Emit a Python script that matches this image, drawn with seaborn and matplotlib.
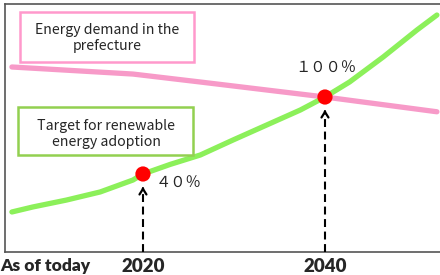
import numpy as np
import pandas as pd
import matplotlib
matplotlib.use('Agg')
import matplotlib.pyplot as plt
import seaborn as sns
from matplotlib.patches import Rectangle

# values (x: year, y: % of the 2040 target)
target_years = [2005.6, 2007.9, 2011.6, 2015.3, 2018.9, 2020, 2023, 2026.3, 2029.9,
                2033.6, 2037.3, 2040, 2042.7, 2046.4, 2050.1, 2052.3]
target_values = [10.4, 14.3, 19.7, 26.0, 35.3, 40, 47.5, 54.8, 66.5,
                 78.2, 89.9, 100, 111.7, 131.2, 152.2, 163.9]
demand_years = [2005.6, 2018.9, 2026.3, 2040, 2052.3]
demand_values = [123.4, 117.9, 111.7, 100, 88.5]
marker_years = [2020, 2040]
marker_values = [40, 100]
marker_labels = ['４０％', '１００％']
tick_labels = ['2020', '2040']

sns.set_style('white')
plt.rcParams['font.family'] = ['Noto Sans CJK JP', 'DejaVu Sans']
label_font = ['Lato', 'DejaVu Sans']

fig = plt.figure(figsize=(4.4, 2.75), dpi=100)
ax = fig.add_axes([5 / 440, 23 / 275, 435 / 440, 248 / 275])

demand = pd.DataFrame({'year': demand_years, 'value': demand_values})
target = pd.DataFrame({'year': target_years, 'value': target_values})
sns.lineplot(data=demand, x='year', y='value', color='#f79ac8', linewidth=3.8,
             solid_capstyle='round', ax=ax)
sns.lineplot(data=target, x='year', y='value', color='#8cf05a', linewidth=3.8,
             solid_capstyle='round', ax=ax)

ax.set_xlim(2004.84, 2052.64)
ax.set_ylim(-20.8, 172.5)

# dashed arrows from the axis up to each point
for yr, val in zip(marker_years, marker_values):
    tip = val - 10
    ax.plot([yr, yr], [-20.8, tip - 1.5], color='black', linewidth=1.5,
            linestyle=(0, (3.8, 2.2)), zorder=3)
    ax.annotate('', xy=(yr, tip), xytext=(yr, tip - 4),
                arrowprops=dict(arrowstyle='->,head_length=0.4,head_width=0.25',
                                color='black', lw=1.6), zorder=3)

sns.scatterplot(x=marker_years, y=marker_values, color='#ff0000', s=120,
                edgecolor='none', zorder=5, ax=ax)

ax.text(2021.4, 40 - 7.5, marker_labels[0], fontsize=11, ha='left', va='center')
ax.text(2040.1, 100 + 22, marker_labels[1], fontsize=11, ha='center', va='center')

for side in ['left', 'top', 'bottom']:
    ax.spines[side].set_color('#555555')
    ax.spines[side].set_linewidth(1.2)
ax.spines['right'].set_visible(False)

ax.set_yticks([])
ax.set_xticks(marker_years)
ax.set_xticklabels(tick_labels, fontweight='heavy', fontsize=13.5, family=label_font)
ax.tick_params(axis='x', length=0, pad=4)
ax.set_xlabel('')
ax.set_ylabel('')
ax.text(-5 / 435, -5.5 / 248, 'As of today', transform=ax.transAxes,
        fontsize=12.5, fontweight='heavy', ha='left', va='top', family=label_font)

# legend boxes
fig.patches.append(Rectangle((20 / 440, 1 - 62 / 275), 174 / 440, 50 / 275,
                             transform=fig.transFigure, facecolor='white',
                             edgecolor='#ff99cc', linewidth=1.8, zorder=10))
fig.text(107 / 440, 1 - 38 / 275, 'Energy demand in the\nprefecture', ha='center',
         va='center', fontsize=10.2, linespacing=1.2, zorder=11)
fig.patches.append(Rectangle((18 / 440, 1 - 155 / 275), 175 / 440, 48 / 275,
                             transform=fig.transFigure, facecolor='white',
                             edgecolor='#92d050', linewidth=1.8, zorder=10))
fig.text(106 / 440, 1 - 134 / 275, 'Target for renewable\nenergy adoption', ha='center',
         va='center', fontsize=10.2, linespacing=1.2, zorder=11)

fig.savefig('out.png', dpi=100)
